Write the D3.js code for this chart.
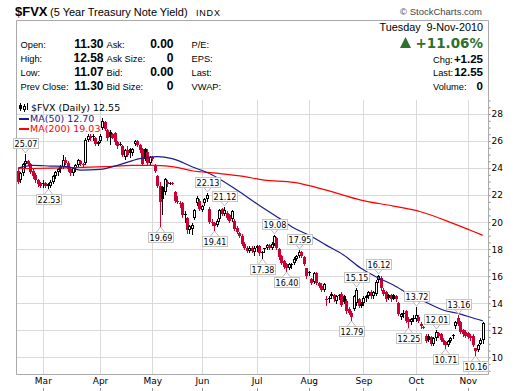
<!DOCTYPE html>
<html><head><meta charset="utf-8">
<script src="https://cdn.jsdelivr.net/npm/d3@7"></script>
<style>body{margin:0;background:#fff}svg{display:block}</style>
</head><body>
<svg id="c" width="520" height="391"></svg>
<script>
// ---- data (values are yield x10) ----
const openV=[23.8,23.1,23.6,24.3,24.5,24.3,23.8,23.5,23.1,22.9,22.8,22.9,22.8,22.7,23.0,23.4,23.7,23.9,24.1,24.6,24.4,23.9,23.6,24.0,24.2,24.5,24.3,24.4,26.1,26.4,26.3,26.2,25.8,26.0,27.0,27.4,26.8,26.7,26.5,26.6,25.9,25.8,25.6,24.8,25.3,25.4,25.1,25.8,26.0,25.7,25.4,25.4,25.2,24.4,24.8,24.2,23.4,22.7,22.6,22.2,23.0,22.9,22.9,22.2,21.6,21.4,21.4,20.5,20.3,19.4,19.5,20.3,21.4,21.6,20.9,21.4,21.7,21.0,20.0,19.9,19.8,20.2,21.0,20.6,20.7,20.5,20.2,20.1,19.6,19.2,19.0,18.4,18.1,17.9,18.1,17.8,18.1,18.2,17.8,18.0,18.1,18.3,18.1,18.4,18.8,18.0,17.5,17.1,16.9,16.6,16.8,17.0,17.3,17.5,17.8,17.4,16.6,16.3,15.8,15.6,16.2,15.5,15.3,15.0,14.3,14.3,14.5,14.6,14.2,14.5,14.7,14.5,14.2,13.6,13.3,13.6,14.0,14.3,14.0,14.0,14.4,14.5,14.8,14.5,14.7,15.7,15.9,15.0,14.8,14.6,14.6,14.6,14.5,14.0,13.0,13.3,13.4,12.8,12.6,12.8,12.8,13.0,12.5,12.25,11.6,11.6,11.5,11.0,11.4,11.8,11.7,11.3,11.1,10.9,11.2,11.6,12.3,12.9,12.6,12.0,11.9,11.8,11.6,11.6,10.7,10.55,11.0,11.30];
const highV=[23.9,23.7,24.4,25.07,24.6,24.4,23.9,23.6,23.2,23.0,23.1,23.0,22.9,23.1,23.5,23.8,24.0,24.2,24.96,24.8,24.5,24.0,24.1,24.3,24.7,24.6,24.4,26.2,26.5,26.5,26.5,26.3,26.0,26.5,27.67,27.5,26.9,26.8,26.6,26.7,26.0,25.9,25.7,25.4,25.6,25.5,25.5,26.1,26.1,25.8,25.5,25.5,25.4,24.9,24.9,24.3,23.5,23.0,22.7,23.3,23.1,23.0,23.0,22.3,21.9,21.6,21.5,20.8,20.4,19.8,19.9,21.0,21.9,21.7,21.3,21.8,22.13,21.1,20.2,20.0,20.2,21.0,21.05,21.12,20.8,20.6,20.9,20.2,19.7,19.3,19.1,18.5,18.2,18.2,18.2,18.2,18.3,18.3,17.9,18.1,18.4,18.4,18.5,19.08,18.9,18.1,17.6,17.2,17.0,17.0,17.0,17.4,17.6,17.95,17.9,17.5,16.6,16.4,15.9,16.3,16.3,15.6,15.5,15.5,14.5,14.5,14.8,14.7,14.6,14.7,14.8,14.6,14.3,13.7,13.4,14.6,15.15,14.4,14.1,14.5,14.6,14.9,15.0,14.9,15.7,16.12,16.0,15.1,14.9,14.7,14.7,14.7,14.6,14.1,13.3,13.5,13.5,13.0,12.9,13.1,13.72,13.1,12.6,12.35,11.7,11.7,11.6,11.5,12.01,11.9,11.8,11.4,11.2,11.3,11.5,11.7,12.7,13.16,12.7,12.1,12.0,11.9,11.7,11.7,10.7,10.95,11.45,12.58];
const lowV=[22.9,23.0,23.5,24.1,24.2,23.6,23.3,23.0,22.7,22.6,22.6,22.6,22.53,22.6,22.9,23.3,23.5,23.7,24.0,24.3,23.8,23.5,23.5,23.8,24.1,24.2,24.1,24.3,26.0,26.1,26.1,25.7,25.7,25.9,26.9,26.8,26.1,25.8,26.2,25.8,25.5,25.7,24.9,24.7,24.9,24.8,25.0,25.7,25.6,25.2,24.2,24.6,24.2,24.3,24.6,23.7,22.6,19.69,20.6,22.1,22.7,22.8,22.8,21.5,21.4,21.1,20.4,20.0,19.2,19.2,19.1,20.2,21.3,20.9,20.8,21.3,21.6,19.9,19.8,19.41,19.7,20.1,20.5,20.5,20.2,20.0,20.1,19.4,19.2,18.9,18.3,18.0,17.8,17.8,17.8,17.6,17.9,17.6,17.38,17.8,18.0,18.0,18.0,18.3,18.0,17.3,16.9,16.6,16.40,16.5,16.6,16.9,17.2,17.4,17.4,16.8,15.9,16.1,15.4,15.5,15.4,15.2,14.9,14.9,13.9,14.1,14.4,14.2,14.0,14.3,13.8,14.0,13.3,13.2,12.79,13.5,13.9,13.7,13.7,13.9,14.2,14.4,14.4,14.4,14.6,15.6,15.0,14.6,14.2,14.3,14.2,14.3,14.2,13.1,12.8,13.0,12.6,12.25,12.5,12.7,12.7,12.6,12.2,12.15,11.1,11.2,10.9,10.9,11.3,11.5,11.2,11.0,10.71,10.8,11.1,11.4,12.2,12.4,11.8,11.6,11.5,11.4,11.3,10.8,10.16,10.5,10.95,11.07];
const closeV=[23.0,23.6,24.3,24.5,24.3,23.7,23.4,23.1,22.8,22.7,22.9,22.7,22.7,23.0,23.4,23.7,23.9,24.1,24.6,24.4,23.9,23.6,24.0,24.2,24.6,24.3,24.2,26.1,26.4,26.2,26.4,25.8,25.9,26.4,27.5,26.9,26.2,26.3,26.25,25.9,25.6,25.8,25.0,25.3,25.0,25.1,25.4,26.0,25.7,25.3,24.3,24.7,24.4,24.8,24.7,23.8,22.7,21.5,21.7,23.2,22.8,22.9,22.85,21.6,21.5,21.4,20.5,20.6,19.4,19.7,19.8,20.9,21.8,21.0,21.2,21.7,22.0,20.0,19.9,19.7,20.1,20.9,20.6,20.9,20.3,20.1,20.8,19.5,19.3,19.0,18.4,18.1,17.9,18.1,17.9,18.1,18.2,17.7,17.7,18.05,18.3,18.1,18.4,19.0,18.1,17.4,17.0,16.7,16.6,16.9,16.9,17.3,17.5,17.8,17.5,16.9,16.0,16.2,15.5,16.2,15.5,15.3,15.0,15.4,14.25,14.4,14.7,14.3,14.5,14.6,13.9,14.1,13.4,13.3,13.0,14.5,15.0,13.8,13.8,14.4,14.5,14.8,14.5,14.8,15.6,16.0,15.1,14.7,14.3,14.4,14.3,14.35,14.3,13.2,13.2,13.3,12.7,12.6,12.8,12.9,13.1,12.7,12.3,12.27,11.2,11.3,11.0,11.4,11.9,11.6,11.3,11.1,10.9,11.2,11.4,11.65,12.6,12.5,11.9,11.7,11.6,11.5,11.4,10.9,10.45,10.9,11.30,12.55];
const ma50Idx=[0,6,13,20,25,33,40,49,56,62,70,78,87,97,105,111,117,124,131,138,144,151,158,165,171,178,184,187];
const ma50Val=[24.0,24.2,24.15,24.1,23.85,23.9,24.2,24.7,24.85,24.7,24.1,23.5,22.5,21.25,20.3,19.56,19.05,18.3,17.57,16.58,15.96,15.35,14.6,14.0,13.5,13.2,12.85,12.70];
const ma200Idx=[0,13,26,35,46,55,64,70,80,90,99,111,124,138,151,162,175,182,187];
const ma200Val=[23.95,24.0,24.05,24.1,24.2,24.2,24.05,23.8,23.62,23.4,23.11,22.94,22.37,21.63,21.19,20.77,19.91,19.4,19.03];
const monthLabels=["Mar","Apr","May","Jun","Jul","Aug","Sep","Oct","Nov"];
const yTicks=[10,12,14,16,18,20,22,24,26,28];
const holidays=["2010-02-15","2010-04-02","2010-05-31","2010-07-05","2010-09-06"];
const annoIdx=[3,12,57,76,79,83,98,103,108,113,134,136,145,157,160,168,172,177,184];
const annoVal=[25.07,22.53,19.69,22.13,19.41,21.12,17.38,19.08,16.40,17.95,12.79,15.15,16.12,12.25,13.72,12.01,10.71,13.16,10.16];
const annoType=["h","l","l","h","l","h","l","h","l","h","l","h","h","l","h","h","l","h","l"];

// ---- trading calendar ----
const fmt=d3.timeFormat("%Y-%m-%d");
const hol=new Set(holidays);
const dates=[]; let dd=new Date(2010,1,12);
while(dates.length<closeV.length){const w=dd.getDay(); if(w>0&&w<6&&!hol.has(fmt(dd))) dates.push(new Date(dd)); dd.setDate(dd.getDate()+1);}
const monthIdx=[]; dates.forEach((d,i)=>{if(i>0&&d.getMonth()!==dates[i-1].getMonth()) monthIdx.push(i);});

const svg=d3.select("#c");
const L=16,R=488,T=100,B=374;
const x=d3.scaleLinear().domain([-0.8,189.1]).range([L,R]);
const y=d3.scaleLinear().domain([10,28]).range([357.3,114]);
const SANS="Liberation Sans, Arial, sans-serif", DV="DejaVu Sans, Verdana, sans-serif";

// ---- header ----
svg.append("text").attr("x",15).attr("y",16).attr("font-family",SANS).attr("font-weight","bold").attr("font-size",13).text("$FVX");
svg.append("text").attr("x",50).attr("y",16).attr("font-family",SANS).attr("font-size",11).text("(5 Year Treasury Note Yield)");
svg.append("text").attr("x",196).attr("y",16).attr("font-family",SANS).attr("font-size",9).attr("letter-spacing",0.8).text("INDX");
svg.append("text").attr("x",482).attr("y",15).attr("text-anchor","end").attr("font-family",SANS).attr("font-size",9.5).attr("fill","#444").text("© StockCharts.com");

const rows=[48,62,76,90];
const c1=["Open:","High:","Low:","Prev Close:"], v1=["11.30","12.58","11.07","11.30"];
const c2=["Ask:","Ask Size:","Bid:","Bid Size:"], v2=["0.00","0","0.00","0"];
const c3=["P/E:","EPS:","Last:","VWAP:"];
const LF=9.3;
rows.forEach((ry,i)=>{
  svg.append("text").attr("x",20.5).attr("y",ry).attr("font-family",SANS).attr("font-size",LF).text(c1[i]);
  svg.append("text").attr("x",103.5).attr("y",ry).attr("text-anchor","end").attr("font-family",SANS).attr("font-weight","bold").attr("font-size",12).text(v1[i]);
  svg.append("text").attr("x",106.5).attr("y",ry).attr("font-family",SANS).attr("font-size",LF).text(c2[i]);
  svg.append("text").attr("x",173.5).attr("y",ry).attr("text-anchor","end").attr("font-family",SANS).attr("font-weight","bold").attr("font-size",12).text(v2[i]);
  svg.append("text").attr("x",191.5).attr("y",ry).attr("font-family",SANS).attr("font-size",LF).text(c3[i]);
});
svg.append("text").attr("x",483).attr("y",31).attr("text-anchor","end").attr("font-family",SANS).attr("font-size",10.8).attr("xml:space","preserve").text("Tuesday  9-Nov-2010");
svg.append("path").attr("d","M400,48 L405.5,37 L411,48 Z").attr("fill","#2f6f2f");
svg.append("text").attr("x",483).attr("y",48).attr("text-anchor","end").attr("font-family",DV).attr("font-weight","bold").attr("font-size",13.5).attr("fill","#2f6f2f").text("+11.06%");
const rl=["Chg:","Last:","Volume:"], rv=["+1.25","12.55","0"], rr=[63,76,90];
rl.forEach((t,i)=>{
  svg.append("text").attr("x",433).attr("y",rr[i]).attr("font-family",SANS).attr("font-size",LF).text(t);
  svg.append("text").attr("x",483).attr("y",rr[i]).attr("text-anchor","end").attr("font-family",SANS).attr("font-weight","bold").attr("font-size",11.5).text(rv[i]);
});

// ---- grid ----
const g=svg.append("g");
g.selectAll("line.h").data(yTicks).join("line").attr("x1",L).attr("x2",R)
 .attr("y1",d=>Math.round(y(d))+0.5).attr("y2",d=>Math.round(y(d))+0.5).attr("stroke","#d9d9d9");
g.selectAll("line.v").data(monthIdx).join("line").attr("y1",T).attr("y2",B)
 .attr("x1",d=>Math.round(x(d))+0.5).attr("x2",d=>Math.round(x(d))+0.5).attr("stroke","#d9d9d9");

// ---- axes ----
const ya=svg.append("g").attr("transform",`translate(${R+0.5},0)`)
 .call(d3.axisRight(y).tickValues(yTicks).tickSize(0).tickPadding(3).tickFormat(d3.format("d")));
ya.select(".domain").remove();
ya.selectAll("text").attr("font-family",DV).attr("font-size",9).attr("fill","#000");
const minor=d3.range(9,29.01,0.5);
const ym=svg.append("g").attr("transform",`translate(${R+0.5},0)`).call(d3.axisRight(y).tickValues(minor).tickSize(2).tickFormat(""));
ym.select(".domain").remove(); ym.selectAll("line").attr("stroke","#888");
const xa=svg.append("g").attr("transform",`translate(0,${B})`)
 .call(d3.axisBottom(x).tickValues(monthIdx).tickSize(0).tickPadding(3.5).tickFormat((d,i)=>monthLabels[i]));
xa.select(".domain").remove();
xa.selectAll("text").attr("font-family",DV).attr("font-size",9).attr("fill","#000");
svg.selectAll("line.mt").data(monthIdx).join("line").attr("x1",d=>Math.round(x(d))+0.5).attr("x2",d=>Math.round(x(d))+0.5).attr("y1",388).attr("y2",391).attr("stroke","#999");

// ---- borders ----
svg.append("path").attr("d",`M${L+0.5},20.5 H${R+0.5} V${B+0.5} H${L+0.5} Z`).attr("fill","none").attr("stroke","#aaaaaa");

// ---- candles ----
const RED="#cc0033";
const cg=svg.append("g");
closeV.forEach((c,i)=>{
  const o=openV[i],h=highV[i],l=lowV[i];
  const prev=i>0?closeV[i-1]:o;
  const col=c<prev?RED:"#000";
  const px=Math.round(x(i));
  cg.append("line").attr("x1",px+0.5).attr("x2",px+0.5).attr("y1",Math.round(y(h))).attr("y2",Math.round(y(l))+1).attr("stroke",col);
  const yt=Math.round(y(Math.max(o,c))), yb=Math.round(y(Math.min(o,c)));
  const bh=Math.max(1,yb-yt);
  if(c>o && bh>=3){
    cg.append("rect").attr("x",px-0.5).attr("y",yt+0.5).attr("width",2).attr("height",bh-1).attr("fill","#fff").attr("stroke",col);
  } else {
    cg.append("rect").attr("x",px-1).attr("y",yt).attr("width",3).attr("height",bh).attr("fill",col);
  }
});

// ---- moving averages ----
const line=d3.line().x(d=>x(d[0])).y(d=>y(d[1])).curve(d3.curveMonotoneX);
svg.append("path").attr("d",line(ma200Idx.map((d,i)=>[d,ma200Val[i]]))).attr("fill","none").attr("stroke","#ff0000").attr("stroke-width",1.2);
svg.append("path").attr("d",line(ma50Idx.map((d,i)=>[d,ma50Val[i]]))).attr("fill","none").attr("stroke","#1c1c8c").attr("stroke-width",1.2);

// ---- legend ----
const lg=svg.append("g");
lg.append("line").attr("x1",20.5).attr("x2",20.5).attr("y1",103).attr("y2",111).attr("stroke","#000");
lg.append("rect").attr("x",19).attr("y",105).attr("width",3).attr("height",4).attr("fill","#000");
lg.append("line").attr("x1",24.5).attr("x2",24.5).attr("y1",104).attr("y2",112).attr("stroke","#000");
lg.append("rect").attr("x",23.5).attr("y",106.5).attr("width",2).attr("height",3).attr("fill","#fff").attr("stroke","#000");
lg.append("line").attr("x1",27.5).attr("x2",27.5).attr("y1",103).attr("y2",110).attr("stroke","#000");
lg.append("text").attr("x",31).attr("y",111).attr("font-family",DV).attr("font-size",9.5).text("$FVX (Daily) 12.55");
lg.append("line").attr("x1",19).attr("x2",29).attr("y1",119).attr("y2",119).attr("stroke","#1c1c8c").attr("stroke-width",2);
lg.append("text").attr("x",30).attr("y",122).attr("font-family",DV).attr("font-size",9.5).attr("fill","#1c1c8c").text("MA(50) 12.70");
lg.append("line").attr("x1",19).attr("x2",29).attr("y1",129).attr("y2",129).attr("stroke","#ff0000").attr("stroke-width",2);
lg.append("text").attr("x",30).attr("y",132).attr("font-family",DV).attr("font-size",9.5).attr("fill","#ff0000").text("MA(200) 19.03");

// ---- high/low annotations ----
const ag=svg.append("g");
annoIdx.forEach((di,k)=>{
  const cx=Math.round(x(di))+0.5, v=annoVal[k], py=Math.round(y(v)), t=annoType[k];
  const w=25,h=10,gap=6;
  const by=t==="h"?py-gap-h:py+gap;
  const edge=t==="h"?by+h:by;
  const tip=t==="h"?py-1:py+1;
  ag.append("path").attr("d",`M${cx-4},${edge} L${cx},${tip} L${cx+4},${edge}`).attr("fill","#fff").attr("stroke","#bbb");
  ag.append("rect").attr("x",Math.round(cx-w/2)+0.5).attr("y",Math.round(by)+0.5).attr("width",w).attr("height",h).attr("fill","#fff").attr("stroke","#c4c4c4");
  ag.append("text").attr("x",cx+0.5).attr("y",Math.round(by)+8.5).attr("text-anchor","middle").attr("font-family",DV).attr("font-size",8).text(v.toFixed(2));
});
</script>
</body></html>
